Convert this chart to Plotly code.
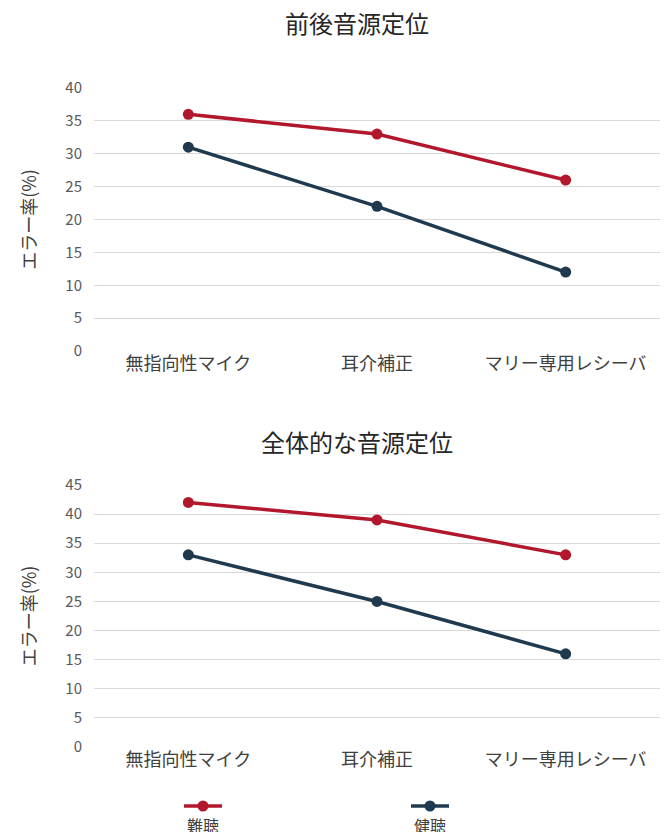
import plotly.graph_objects as go

categories = ["無指向性マイク", "耳介補正", "マリー専用レシーバ"]
series_names = ["難聴", "健聴"]
front_back_hearing_impaired = [36, 33, 26]
front_back_normal = [31, 22, 12]
overall_hearing_impaired = [42, 39, 33]
overall_normal = [33, 25, 16]
titles = ["前後音源定位", "全体的な音源定位"]
y_title = "エラー率(%)"

RED = "#B2172C"
NAVY = "#1F3A4E"
FONT = "Noto Sans CJK JP"

# page has an 8px body margin; positions below are in figure pixels
W, H = 670, 832
L, R = 86, 18
fig = go.Figure()

def py(p):
    return 1 - p / H

def px(p):
    return (p - L) / (W - L - R)

data = [
    (front_back_hearing_impaired, front_back_normal, "x", "y"),
    (overall_hearing_impaired, overall_normal, "x2", "y2"),
]
for hi, nh, xa, ya in data:
    for vals, name, col in [(hi, series_names[0], RED), (nh, series_names[1], NAVY)]:
        fig.add_trace(go.Scatter(
            x=categories, y=vals, name=name, mode="lines+markers",
            line=dict(color=col, width=3.5), marker=dict(color=col, size=11),
            xaxis=xa, yaxis=ya, showlegend=False,
        ))

xcommon = dict(type="category", range=[-0.5, 2.5], showgrid=False, zeroline=False,
               showline=False, ticks="", automargin=False,
               tickfont=dict(size=18, color="#404040", family=FONT))
ycommon = dict(showgrid=True, gridcolor="#D9D9D9", gridwidth=1, zeroline=False, showline=False,
               ticks="", automargin=False, tickfont=dict(size=15, color="#595959", family=FONT),
               dtick=5, ticklabelstandoff=11,
               title=dict(text=y_title, font=dict(size=18, color="#404040", family=FONT), standoff=24))

fig.update_layout(
    width=W, height=H,
    margin=dict(l=L, r=R, t=0, b=0),
    paper_bgcolor="white", plot_bgcolor="white",
    font=dict(family=FONT),
    xaxis=dict(domain=[0, 1], anchor="y", **xcommon),
    yaxis=dict(domain=[py(343), py(80)], anchor="x", range=[0, 40], **ycommon),
    xaxis2=dict(domain=[0, 1], anchor="y2", **xcommon),
    yaxis2=dict(domain=[py(739), py(477)], anchor="x2", range=[0, 45], **ycommon),
    showlegend=False,
)

for t, ypix in zip(titles, [15, 433]):
    fig.add_annotation(text=t, xref="paper", yref="paper", x=px(349), y=py(ypix),
                       showarrow=False, xanchor="center", yanchor="middle",
                       font=dict(size=24, color="#262626", family=FONT))

# custom legend (symbol above text)
for name, col, cx in [(series_names[0], RED, 195), (series_names[1], NAVY, 422)]:
    fig.add_shape(type="line", xref="paper", yref="paper",
                  x0=px(cx - 19), x1=px(cx + 19), y0=py(798), y1=py(798),
                  line=dict(color=col, width=3.5))
    fig.add_shape(type="circle", xref="paper", yref="paper",
                  x0=px(cx - 5.5), x1=px(cx + 5.5), y0=py(803.5), y1=py(792.5),
                  fillcolor=col, line=dict(color=col, width=0))
    fig.add_annotation(text=name, xref="paper", yref="paper", x=px(cx), y=py(817),
                       showarrow=False, xanchor="center", yanchor="middle",
                       font=dict(size=16, color="#404040", family=FONT))

fig.write_html("out.html")
